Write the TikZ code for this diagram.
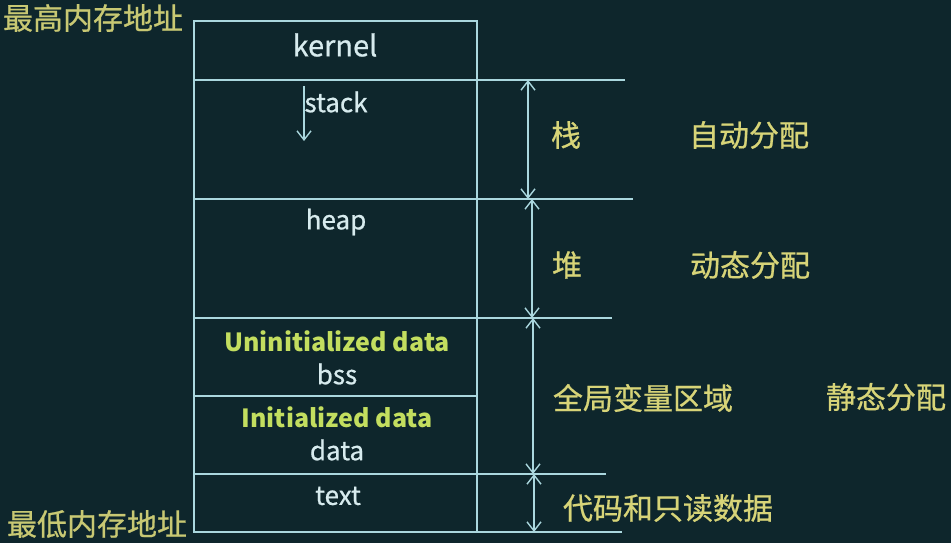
\documentclass[tikz,border=0pt]{standalone}
\usepackage{fontspec}
\setmainfont{Noto Sans CJK SC}
\newfontfamily\medfont{Noto Sans CJK SC}[FakeBold=0.7]
\usetikzlibrary{arrows.meta}
\definecolor{bg}{RGB}{14,38,44}
\definecolor{ln}{RGB}{170,215,222}
\definecolor{wt}{RGB}{215,235,238}
\definecolor{yg}{RGB}{195,222,95}
\definecolor{yl}{RGB}{215,212,120}
\definecolor{yo}{RGB}{200,200,115}
\begin{document}
\begin{tikzpicture}[x=1pt,y=-1pt,
  segbox/.style={draw=ln, line width=2.6pt, minimum width=283pt, anchor=north west, inner sep=0pt, outer sep=0pt},
  ext/.style={draw=ln, line width=2.2pt},
  wlabel/.style={text=wt, font=\medfont\fontsize{26}{28}\selectfont, inner sep=0pt},
  glabel/.style={text=yg, font=\bfseries\fontsize{25}{27}\selectfont, inner sep=0pt},
  clabel/.style={text=yl, font=\medfont\fontsize{30}{32}\selectfont, inner sep=0pt},
  mytip/.tip={Straight Barb[length=9pt,width=14pt,line width=1.4pt]},
  dimarrow/.style={draw=ln, line width=1.6pt, mytip-mytip},
  growarrow/.style={draw=ln, line width=1.4pt, -mytip}
]
\fill[bg] (0,0) rectangle (951,543);
\useasboundingbox (0,0) rectangle (951,543);

% memory segments
\node[segbox, minimum height=59pt]  (kernelbox) at (194,21)  {};
\node[segbox, minimum height=119pt] (stackbox)  at (194,80)  {};
\node[segbox, minimum height=119pt] (heapbox)   at (194,199) {};
\node[segbox, minimum height=78pt]  (bssbox)    at (194,318) {};
\node[segbox, minimum height=78pt]  (databox)   at (194,396) {};
\node[segbox, minimum height=58pt]  (textbox)   at (194,474) {};

% segment texts
\node[wlabel, font=\medfont\fontsize{29}{31}\selectfont] (kernel) at (335,45) {kernel};
\node[wlabel] (stack) at (336,102) {stack};
\node[wlabel] (heap)  at (336,222) {heap};
\node[glabel] (uninit) at (337,341) {Uninitialized data};
\node[wlabel] (bss)   at (337,374) {bss};
\node[glabel] (init)  at (337,417) {Initialized data};
\node[wlabel] (data)  at (337,450) {data};
\node[wlabel] (text)  at (338,496) {text};

% stack growth arrow
\coordinate (gs) at (304,86);
\coordinate (ge) at (304,141);
\draw[growarrow] (gs) -- (ge);

% extension lines
\coordinate (e1) at (625,80);
\coordinate (e2) at (633,199);
\coordinate (e3) at (612,318);
\coordinate (e4) at (606,474);
\coordinate (e5) at (622,532);
\draw[ext] (stackbox.north east) -- (e1);
\draw[ext] (heapbox.north east) -- (e2);
\draw[ext] (bssbox.north east) -- (e3);
\draw[ext] (textbox.north east) -- (e4);
\draw[ext] (textbox.south east) -- (e5);

% dimension arrows
\coordinate (d1t) at (528,80);  \coordinate (d1b) at (528,199);
\coordinate (d2t) at (532,199); \coordinate (d2b) at (532,318);
\coordinate (d3t) at (533,318); \coordinate (d3b) at (533,474);
\coordinate (d4t) at (534,474); \coordinate (d4b) at (534,532);
\draw[dimarrow] (d1t) -- (d1b);
\draw[dimarrow] (d2t) -- (d2b);
\draw[dimarrow] (d3t) -- (d3b);
\draw[dimarrow] (d4t) -- (d4b);

% right-hand labels
\node[clabel] (zhan)  at (566,135) {栈};
\node[clabel] (auto)  at (749,135) {自动分配};
\node[clabel] (dui)   at (567,265) {堆};
\node[clabel] (dyn)   at (750,265) {动态分配};
\node[clabel] (glob)  at (643,398) {全局变量区域};
\node[clabel] (stat)  at (886,397) {静态分配};
\node[clabel] (code)  at (668,508) {代码和只读数据};

% address labels
\node[clabel, text=yo] (high) at (93,18)  {最高内存地址};
\node[clabel, text=yo] (low)  at (97,524) {最低内存地址};
\end{tikzpicture}
\end{document}
